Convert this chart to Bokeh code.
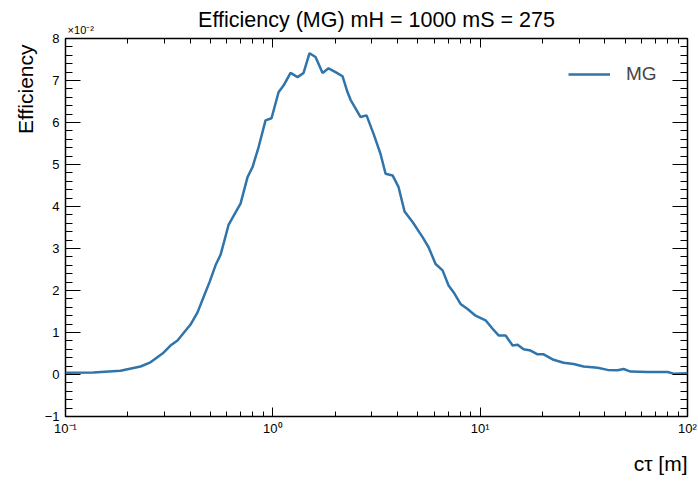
import json
from bokeh.plotting import figure
from bokeh.models import (Range1d, LogAxis, LinearAxis, SingleIntervalTicker, LogTicker,
                          CustomJSTickFormatter, Title, Legend, LegendItem)
from bokeh.embed import file_html
from bokeh.resources import INLINE

# ---- data ----
ctau_m = [0.100, 0.1364, 0.1842, 0.2300, 0.2570, 0.2971, 0.3209, 0.3469, 0.4009, 0.4333,
          0.4630, 0.4951, 0.5292, 0.5595, 0.5848, 0.6114, 0.6683, 0.6986, 0.7551, 0.7983,
          0.8532, 0.9222, 0.9856, 1.0654, 1.1261, 1.2173, 1.3158, 1.4066, 1.5031, 1.6069,
          1.7372, 1.8565, 2.0065, 2.1693, 2.2932, 2.3707, 2.6497, 2.8314, 3.0609, 3.3077,
          3.4972, 3.7805, 4.0411, 4.3182, 4.7206, 5.2749, 5.6388, 6.0954, 6.5887, 7.0403,
          7.4413, 8.0427, 8.6937, 9.5024, 10.617, 11.477, 12.267, 13.262, 14.334, 15.152,
          16.196, 17.506, 18.922, 20.226, 22.599, 25.256, 28.221, 31.535, 36.842, 41.168,
          46.009, 49.174, 53.152, 64.209, 80.168, 85.700, 100.0]
# efficiency in units of 1e-2
eff_mg = [0.04, 0.05, 0.09, 0.19, 0.29, 0.52, 0.69, 0.81, 1.19, 1.48,
          1.84, 2.20, 2.60, 2.85, 3.20, 3.56, 3.90, 4.07, 4.70, 4.94,
          5.41, 6.05, 6.10, 6.72, 6.88, 7.18, 7.08, 7.18, 7.65, 7.56,
          7.18, 7.29, 7.20, 7.10, 6.72, 6.54, 6.13, 6.17, 5.73, 5.25,
          4.78, 4.74, 4.46, 3.88, 3.63, 3.27, 3.03, 2.63, 2.48, 2.12,
          1.96, 1.68, 1.56, 1.40, 1.29, 1.09, 0.93, 0.93, 0.69, 0.71,
          0.60, 0.57, 0.48, 0.48, 0.35, 0.28, 0.25, 0.19, 0.16, 0.11,
          0.10, 0.13, 0.07, 0.06, 0.06, 0.02, 0.03]
x_tick_labels = {"-1": "10\u207b\u00b9", "0": "10\u2070", "1": "10\u00b9", "2": "10\u00b2"}
y_scale_label = "\u00d710\u207b\u00b2"
title_text = "Efficiency (MG) mH = 1000 mS = 275"
x_label = "c\u03c4 [m]"
y_label = "Efficiency"
series_name = "MG"

FONT = "Liberation Sans"
LINE_COLOR = "#2f74ab"

p = figure(width=698, height=483, x_axis_type="log",
           x_range=Range1d(0.1, 100), y_range=Range1d(-1, 8),
           output_backend="svg", toolbar_location=None, title=None,
           min_border_left=65, min_border_right=11, min_border_top=38, min_border_bottom=67)
p.xgrid.visible = False
p.ygrid.visible = False
p.outline_line_color = "black"
p.outline_line_width = 1.5
p.background_fill_color = "white"
p.border_fill_color = "white"

xfmt = CustomJSTickFormatter(code="const m = %s; const e = Math.round(Math.log10(tick)); return m[String(e)] || '';" % json.dumps(x_tick_labels))
yfmt = CustomJSTickFormatter(code="return tick < 0 ? '\\u2212' + Math.abs(tick) : String(tick);")
topfmt = CustomJSTickFormatter(code="return Math.abs(Math.log10(tick) + 1) < 1e-6 ? %s : '';"
                               % json.dumps("\u2007" * 5 + y_scale_label))
blank = CustomJSTickFormatter(code="return '';")

def style_ticks(ax, major, minor):
    ax.major_tick_in = major
    ax.major_tick_out = 0
    ax.minor_tick_in = minor
    ax.minor_tick_out = 0
    ax.axis_line_color = None
    ax.major_tick_line_color = "black"
    ax.minor_tick_line_color = "black"
    ax.major_tick_line_width = 1
    ax.minor_tick_line_width = 1

# bottom axis
xa = p.xaxis[0]
xa.ticker = LogTicker(num_minor_ticks=10)
style_ticks(xa, 9, 5)
xa.formatter = xfmt
xa.major_label_text_font = FONT
xa.major_label_text_font_size = "13px"
xa.major_label_text_color = "black"
xa.major_label_standoff = 4

# left axis
ya = p.yaxis[0]
ya.ticker = SingleIntervalTicker(interval=1, num_minor_ticks=5)
style_ticks(ya, 15, 7)
ya.formatter = yfmt
ya.major_label_text_font = FONT
ya.major_label_text_font_size = "13px"
ya.major_label_text_color = "black"
ya.major_label_standoff = 6

# top axis: ticks, the x10^-2 multiplier and the title
top_ax = LogAxis(ticker=LogTicker(num_minor_ticks=10))
style_ticks(top_ax, 9, 5)
top_ax.formatter = topfmt
top_ax.major_label_text_font = FONT
top_ax.major_label_text_font_size = "11px"
top_ax.major_label_text_color = "black"
top_ax.major_label_standoff = 3
top_ax.axis_label = title_text
top_ax.axis_label_text_font = FONT
top_ax.axis_label_text_font_size = "21.5px"
top_ax.axis_label_text_font_style = "normal"
top_ax.axis_label_text_color = "black"
top_ax.axis_label_standoff = -11
p.add_layout(top_ax, "above")

# right axis: ticks only
right_ax = LinearAxis(ticker=SingleIntervalTicker(interval=1, num_minor_ticks=5))
style_ticks(right_ax, 15, 7)
right_ax.formatter = blank
right_ax.major_label_text_font_size = "0px"
right_ax.major_label_standoff = 0
p.add_layout(right_ax, "right")

r = p.line(ctau_m, eff_mg, line_color=LINE_COLOR, line_width=2.5)

legend = Legend(items=[LegendItem(label=series_name, renderers=[r])],
                location=(503, 331), border_line_color=None, background_fill_alpha=0,
                label_text_font=FONT, label_text_font_size="19px", glyph_width=42,
                glyph_height=22, label_height=22, label_standoff=16, padding=0, margin=0)
p.add_layout(legend)

# y label at the top of the left side
p.add_layout(Title(text=y_label, align="right", offset=6, standoff=10, vertical_align="bottom",
                   text_font=FONT, text_font_size="21px", text_font_style="normal",
                   text_color="black"), "left")
# x label at the right of the bottom side (after a small spacer)
p.add_layout(Title(text="\u00a0", text_font_size="1px", standoff=10), "below")
p.add_layout(Title(text=x_label, align="right", offset=0, standoff=0, vertical_align="top",
                   text_font=FONT, text_font_size="21px", text_font_style="normal",
                   text_color="black"), "below")

open("out.html", "w").write(file_html(p, INLINE))
